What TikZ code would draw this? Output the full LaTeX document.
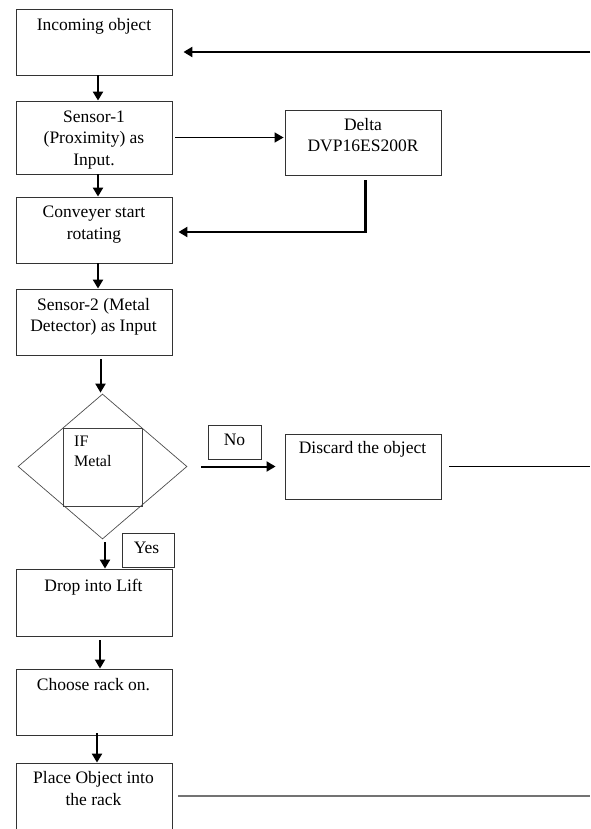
\documentclass[tikz,border=0pt]{standalone}
\usepackage{fontspec}
\setmainfont{Liberation Serif}
\usetikzlibrary{arrows.meta,shapes.geometric}
\begin{document}
\begin{tikzpicture}[x=1pt,y=-1pt,
  box/.style={draw=black!80, line width=0.9pt, rectangle, inner sep=0pt},
  txt/.style={anchor=base, align=center, inner sep=0pt, font=\fontsize{17.5}{21.3}\selectfont},
  tipA/.style={-{Triangle[length=9pt,width=10pt]}},
  bigarrow/.style={tipA, line width=2.8pt},
  midarrow/.style={tipA, line width=2pt},
  thinarrow/.style={tipA, line width=1.5pt},
]
\useasboundingbox (0,0) rectangle (590,829);

% boxes
\node[box, minimum width=156pt, minimum height=66pt] (b1) at (94,42) {};
\node[box, minimum width=156pt, minimum height=73pt] (b2) at (94,137.5) {};
\node[box, minimum width=156pt, minimum height=66pt] (b3) at (94,230) {};
\node[box, minimum width=156pt, minimum height=66pt] (b4) at (94,322) {};
\node[box, minimum width=156pt, minimum height=65pt] (delta) at (363,142.5) {};
\node[diamond, draw=black!70, line width=0.7pt, inner sep=0pt, minimum width=169pt, minimum height=145pt] (dia) at (102.5,466.5) {};
\node[box, draw=black!75, minimum width=79pt, minimum height=78pt] (sq) at (102.5,467) {};
\node[box, minimum width=53pt, minimum height=34pt] (no) at (234.5,442) {};
\node[box, minimum width=156pt, minimum height=65pt] (disc) at (363,466.5) {};
\node[box, minimum width=52pt, minimum height=34pt] (yes) at (148,550) {};
\node[box, minimum width=156pt, minimum height=67pt] (b5) at (94,602.5) {};
\node[box, minimum width=156pt, minimum height=66pt] (b6) at (94,702) {};
\node[box, minimum width=156pt, minimum height=80pt] (b7) at (94,803) {};

% texts (anchor base = baseline of the last line)
\node[txt] (t1) at (94,31) {Incoming object};
\node[txt] (t2) at (94,165) {Sensor-1\\(Proximity) as\\Input.};
\node[txt] (t3) at (94,239) {Conveyer start\\rotating};
\node[txt] (t4) at (93.5,331.5) {Sensor-2 (Metal\\Detector) as Input};
\node[txt] (td) at (363,151.5) {Delta\\DVP16ES200R};
\node[txt, anchor=base west, align=left, font=\fontsize{16}{19.5}\selectfont] (tif) at (74,466) {IF\\Metal};
\node[txt] (tno) at (234.5,445) {No};
\node[txt] (tdisc) at (362.5,453.5) {Discard the object};
\node[txt] (tyes) at (146.5,553.5) {Yes};
\node[txt] (t5) at (93.5,591.5) {Drop into Lift};
\node[txt] (t6) at (93.5,690) {Choose rack on.};
\node[txt] (t7) at (93.5,805) {Place Object into\\the rack};

% free ends
\coordinate (r1) at (590,52);
\coordinate (r2) at (590,466);
\coordinate (r3) at (590,796);

% connectors
\draw[bigarrow] ([xshift=4pt]b1.south) -- ([xshift=4pt]b2.north);
\draw[bigarrow] ([xshift=4pt]b2.south) -- ([xshift=4pt]b3.north);
\draw[bigarrow] ([xshift=4pt]b3.south) -- ([xshift=4pt]b4.north);
\draw[midarrow] ([shift={(6.5,4)}]b4.south) -- ([shift={(-2,-1)}]dia.north);
\draw[bigarrow] ([shift={(2.5,3)}]dia.south) -- ([xshift=11pt]b5.north);
\draw[midarrow] ([shift={(6,4)}]b5.south) -- ([xshift=6pt]b6.north);
\draw[bigarrow] ([shift={(3,-2)}]b6.south) -- ([xshift=3pt]b7.north);

\draw[bigarrow] (r1) -- ([shift={(11,10)}]b1.east);
\draw[thinarrow] ([xshift=3pt]b2.east) -- ([xshift=-1pt]b2.east -| delta.west);
\draw[bigarrow] ([shift={(2.5,5)}]delta.south) |- ([shift={(6,2)}]b3.east);
\draw[midarrow] ([xshift=14pt]dia.east) -- ([xshift=-9pt]dia.east -| disc.west);
\draw[line width=1pt] ([xshift=8pt]disc.east |- r2) -- (r2);
\draw[line width=1.8pt, black!55] ([xshift=6pt]b7.east |- r3) -- (r3);
\end{tikzpicture}
\end{document}
